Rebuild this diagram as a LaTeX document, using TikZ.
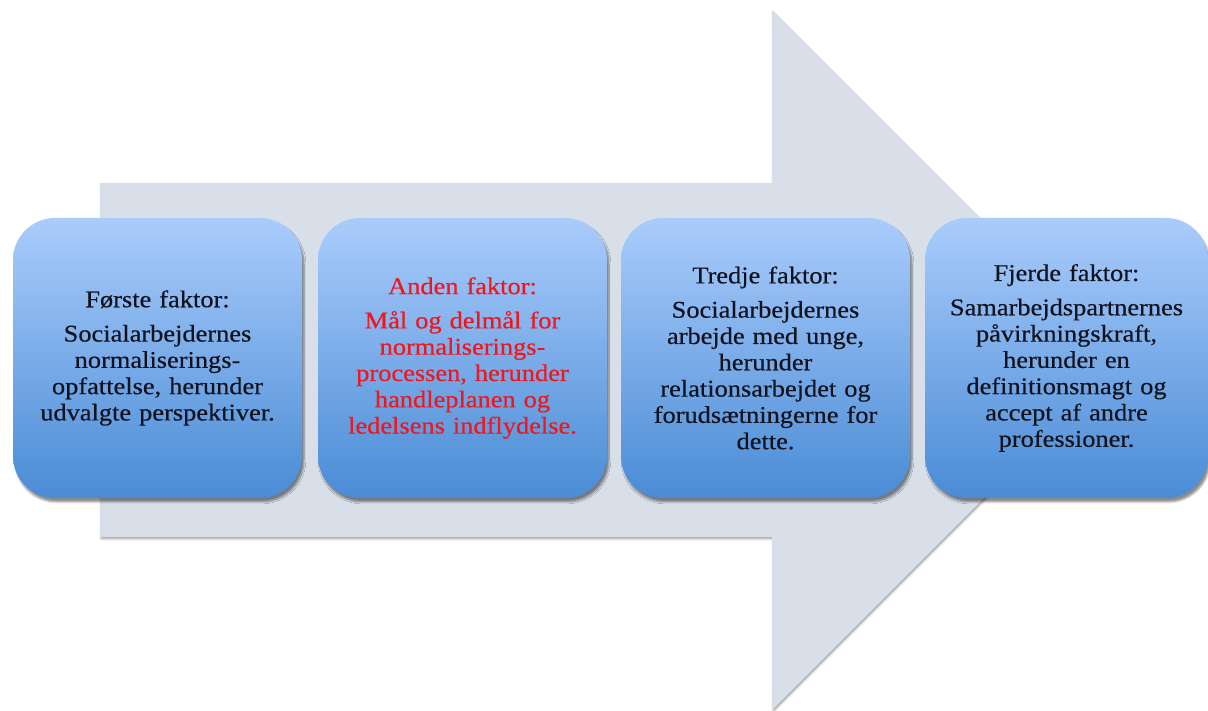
\documentclass[tikz,border=0pt]{standalone}
\usepackage{fontspec}
\setmainfont{Liberation Serif}[FakeStretch=1.1, FakeBold=0.4]
\usetikzlibrary{shadows.blur}
\definecolor{arrowfill}{HTML}{D8DFE9}
\definecolor{boxtop}{HTML}{AACCFC}
\definecolor{boxbot}{HTML}{4A8CD5}
\definecolor{redtext}{HTML}{F0161E}
\definecolor{darktext}{HTML}{10121E}
\begin{document}
\begin{tikzpicture}[x=1pt,y=1pt,
  factorbox/.style={rectangle, rounded corners=42pt, minimum width=289pt, minimum height=280pt,
    top color=boxtop, bottom color=boxbot, draw=none, text=darktext,
    blur shadow={shadow xshift=2pt, shadow yshift=-4pt, shadow blur steps=6, shadow opacity=45},
    align=center, text width=282pt, font=\fontsize{24}{26.3}\selectfont, inner sep=0pt},
  bigarrow/.style={fill=arrowfill, draw=none,
    blur shadow={shadow xshift=1pt, shadow yshift=-2pt, shadow blur steps=4, shadow opacity=35}}
]
\useasboundingbox (0,0) rectangle (1208,711);
\path[bigarrow] (100,528) -- (772,528) -- (772,701) -- (1122,351) -- (772,1) -- (772,174) -- (100,174) -- cycle;
\node[factorbox] (f1) at (157.5,353) {Første faktor:\\[8pt]Socialarbejdernes\\normaliserings-\\opfattelse, herunder\\udvalgte perspektiver.};
\node[factorbox, text=redtext] (f2) at (462.5,353) {Anden faktor:\\[8pt]Mål og delmål for\\normaliserings-\\processen, herunder\\handleplanen og\\ledelsens indflydelse.};
\node[factorbox] (f3) at (765.5,353) {Tredje faktor:\\[8pt]Socialarbejdernes\\arbejde med unge,\\herunder\\relationsarbejdet og\\forudsætningerne for\\dette.};
\node[factorbox, minimum width=283pt] (f4) at (1066.5,353) {Fjerde faktor:\\[8pt]Samarbejdspartnernes\\påvirkningskraft,\\herunder en\\definitionsmagt og\\accept af andre\\professioner.};
\end{tikzpicture}
\end{document}
